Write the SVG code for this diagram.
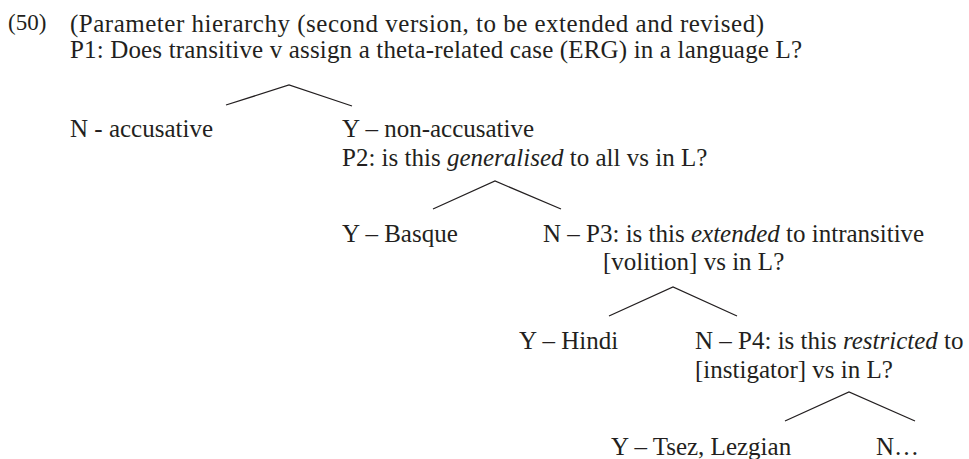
<svg xmlns="http://www.w3.org/2000/svg" width="969" height="459" viewBox="0 0 969 459">
<style>
text { font-family: "Liberation Serif", "Times New Roman", serif; font-size: 25px; fill: #231f20; }
.it { font-style: italic; }
.branch { fill: none; stroke: #231f20; stroke-width: 1.3; }
</style>
<rect width="969" height="459" fill="#ffffff"/>
<g id="label">
<text x="8" y="30" style="font-size:23px">(50)</text>
</g>
<g id="title">
<text x="70" y="32" textLength="694" lengthAdjust="spacing">(Parameter hierarchy (second version, to be extended and revised)</text>
</g>
<g id="p1">
<text x="70" y="58" textLength="732" lengthAdjust="spacing">P1: Does transitive v assign a theta-related case (ERG) in a language L?</text>
</g>
<g id="n-accusative">
<text x="70" y="137">N - accusative</text>
</g>
<g id="p2">
<text x="342" y="137">Y – non-accusative</text>
<text x="342" y="166">P2: is this <tspan class="it">generalised</tspan> to all vs in L?</text>
</g>
<g id="basque">
<text x="342" y="242">Y – Basque</text>
</g>
<g id="p3">
<text x="543" y="242">N – P3: is this <tspan class="it">extended</tspan> to intransitive</text>
<text x="603" y="270">[volition] vs in L?</text>
</g>
<g id="hindi">
<text x="519" y="349">Y – Hindi</text>
</g>
<g id="p4">
<text x="695" y="349">N – P4: is this <tspan class="it">restricted</tspan> to</text>
<text x="695" y="378">[instigator] vs in L?</text>
</g>
<g id="tsez">
<text x="611" y="455">Y – Tsez, Lezgian</text>
</g>
<g id="n-more">
<text x="876" y="455">N…</text>
</g>
<g id="connectors">
<polyline class="branch" points="226,105 289,85 352,106"/>
<polyline class="branch" points="433,209 495,181 561,209"/>
<polyline class="branch" points="609,316 673,287 737,316"/>
<polyline class="branch" points="785,421 849,392 915,421"/>
</g>
</svg>
